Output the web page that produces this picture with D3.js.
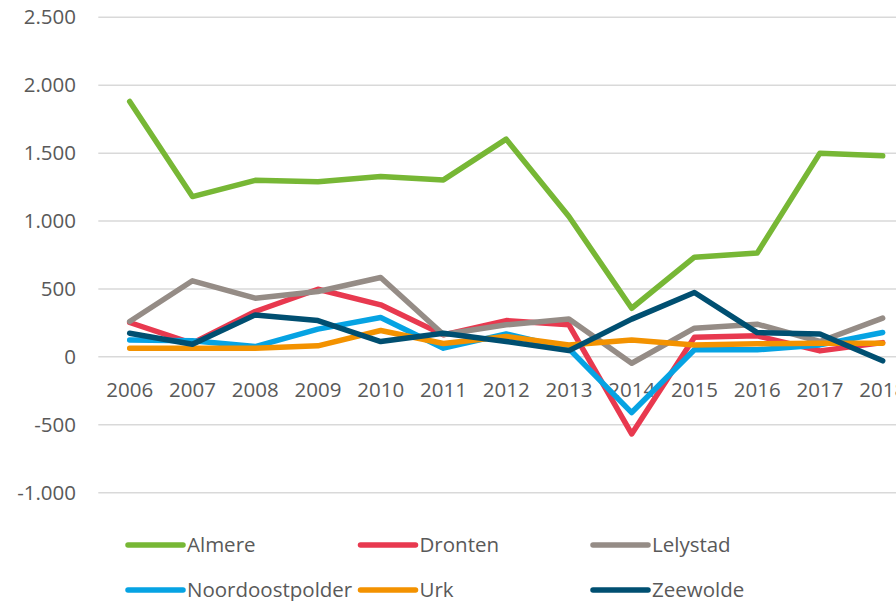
<!doctype html>
<html>
<head>
<meta charset="utf-8">
<title>Gemeenten Flevoland</title>
<script src="https://d3js.org/d3.v7.min.js"></script>
<style>
  body { margin: 0; background: #fff; font-family: "Open Sans", sans-serif; }
  svg text { fill: #595959; }
</style>
</head>
<body>
<div id="plot"></div>
<script>
// data
const years = ["2006","2007","2008","2009","2010","2011","2012","2013","2014","2015","2016","2017","2018"];
const yTicks = [-1000, -500, 0, 500, 1000, 1500, 2000, 2500];

const almere          = [1880, 1180, 1300, 1290, 1328, 1303, 1603, 1033, 358, 734, 764, 1500, 1480];
const dronten         = [253, 100, 334, 498, 383, 162, 267, 236, -567, 145, 155, 44, 105];
const lelystad        = [260, 560, 432, 481, 584, 165, 236, 278, -47, 211, 241, 113, 285];
const noordoostpolder = [125, 118, 76, 204, 290, 64, 169, 60, -410, 52, 52, 88, 179];
const urk             = [64, 64, 64, 81, 194, 98, 150, 88, 125, 88, 96, 101, 101];
const zeewolde        = [174, 93, 309, 267, 113, 174, 113, 46, 278, 474, 179, 169, -29];

const names  = ["Almere", "Dronten", "Lelystad", "Noordoostpolder", "Urk", "Zeewolde"];
const colors = ["#77b735", "#e8394f", "#958c86", "#06a3e3", "#f39200", "#004f71"];
const series = [almere, dronten, lelystad, noordoostpolder, urk, zeewolde];

const W = 896, H = 601;
const left = 98.3, band = 62.75;

const svg = d3.select("#plot").append("svg")
  .attr("width", W).attr("height", H);

const x = d3.scaleBand()
  .domain(years)
  .range([left, left + band * years.length]);

const y = d3.scaleLinear()
  .domain([-1000, 2500])
  .range([492.7, 17.3]);

// dutch thousands separator, plain hyphen for negatives
const fmt = d => (d < 0 ? "-" : "") + d3.format(",")(Math.abs(d)).replace(/,/g, ".");

// gridlines
svg.append("g")
  .selectAll("line")
  .data(yTicks)
  .join("line")
    .attr("x1", left)
    .attr("x2", left + band * years.length)
    .attr("y1", d => y(d))
    .attr("y2", d => y(d))
    .attr("stroke", "#d9d9d9")
    .attr("stroke-width", 1.5);

// y labels
svg.append("g")
  .selectAll("text")
  .data(yTicks)
  .join("text")
    .attr("x", 76)
    .attr("y", d => y(d))
    .attr("dy", "0.35em")
    .attr("text-anchor", "end")
    .style("font-size", "20.5px")
    .text(fmt);

// x labels
svg.append("g")
  .selectAll("text")
  .data(years)
  .join("text")
    .attr("x", d => x(d) + x.bandwidth() / 2)
    .attr("y", 389.5)
    .attr("dy", "0.35em")
    .attr("text-anchor", "middle")
    .style("font-size", "20.5px")
    .text(d => d);

// lines
const line = d3.line()
  .x((d, i) => x(years[i]) + x.bandwidth() / 2)
  .y(d => y(d));

svg.append("g")
  .selectAll("path")
  .data(series)
  .join("path")
    .attr("d", d => line(d))
    .attr("fill", "none")
    .attr("stroke", (d, i) => colors[i])
    .attr("stroke-width", 5.5)
    .attr("stroke-linejoin", "round")
    .attr("stroke-linecap", "round");

// legend
const legend = svg.append("g")
  .selectAll("g")
  .data(names)
  .join("g")
    .attr("transform", (d, i) => `translate(${128 + (i % 3) * 232.5},${545 + Math.floor(i / 3) * 45})`);

legend.append("line")
  .attr("x1", 0).attr("x2", 55)
  .attr("y1", 0).attr("y2", 0)
  .attr("stroke", (d, i) => colors[i])
  .attr("stroke-width", 5.5)
  .attr("stroke-linecap", "round");

legend.append("text")
  .attr("x", 59)
  .attr("y", 0)
  .attr("dy", "0.35em")
  .style("font-size", "20.5px")
  .text(d => d);
</script>
</body>
</html>
